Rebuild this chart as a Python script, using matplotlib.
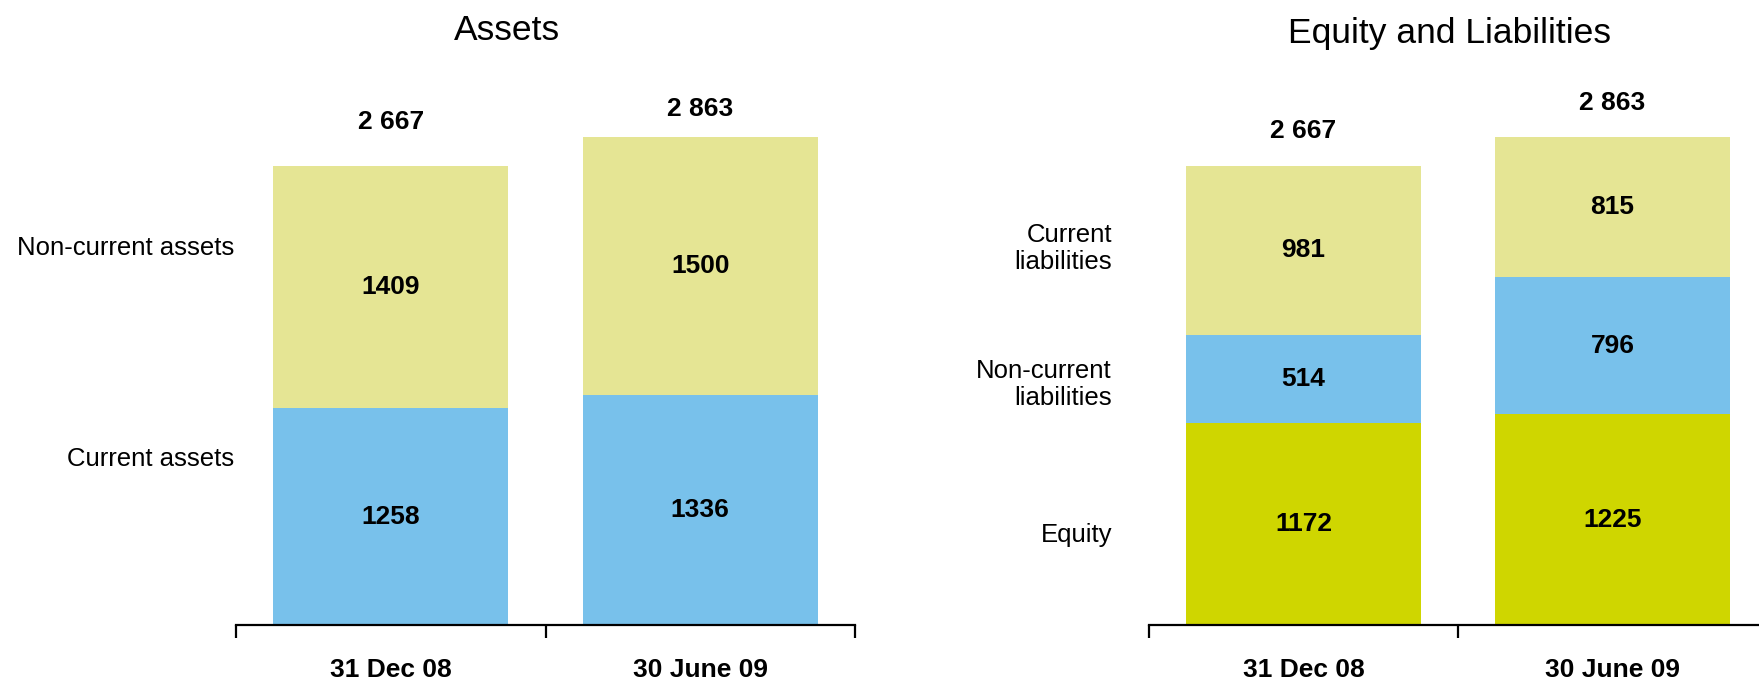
import matplotlib
matplotlib.use("Agg")
import matplotlib.pyplot as plt

plt.rcParams['font.family'] = ['Liberation Sans', 'DejaVu Sans']

dates = ["31 Dec 08", "30 June 09"]

# Assets
current_assets = [1258, 1336]
noncurrent_assets = [1409, 1500]
assets_total = ["2 667", "2 863"]

# Equity and liabilities
equity = [1172, 1225]
noncurrent_liab = [514, 796]
current_liab = [981, 815]
liab_total = ["2 667", "2 863"]

YELLOW = '#E5E594'
BLUE = '#78C1EB'
GREEN = '#CFD600'

fig = plt.figure(figsize=(17.59, 6.80), dpi=100)

W, H = 1759, 680
px_per_unit = 0.1721
ymax = 3300
ax_h = ymax * px_per_unit / H
ax_bottom = 1 - 625 / H

ax1 = fig.add_axes([236 / W, ax_bottom, 619 / W, ax_h])
ax2 = fig.add_axes([1149 / W, ax_bottom, 618 / W, ax_h])


def style_axis(ax):
    ax.set_xlim(-0.5, 1.5)
    ax.set_ylim(0, ymax)
    for s in ['top', 'right', 'left']:
        ax.spines[s].set_visible(False)
    ax.spines['bottom'].set_linewidth(1.6)
    ax.set_yticks([])
    ax.set_xticks([-0.5, 0.5, 1.5])
    ax.set_xticklabels([])
    ax.tick_params(axis='x', which='major', direction='out', length=9, width=1.6)
    ax.set_xticks([0, 1], minor=True)
    ax.set_xticklabels(dates, minor=True, fontsize=19, fontweight='bold')
    ax.tick_params(axis='x', which='minor', length=0, pad=24)


def stacked(ax, layers, colors, totals, offsets):
    x = range(len(dates))
    bottom = [0] * len(dates)
    for vals, c in zip(layers, colors):
        ax.bar(x, vals, width=0.76, bottom=bottom, color=c, edgecolor='none')
        for i, v in enumerate(vals):
            ax.text(i, bottom[i] + v / 2, str(v), ha='center', va='center',
                    fontsize=19, fontweight='bold')
        bottom = [b + v for b, v in zip(bottom, vals)]
    for i, t in enumerate(totals):
        ax.annotate(t, xy=(i, bottom[i]), xytext=(0, offsets[i]),
                    textcoords='offset points', ha='center', va='center',
                    fontsize=19, fontweight='bold', annotation_clip=False)


style_axis(ax1)
style_axis(ax2)

stacked(ax1, [current_assets, noncurrent_assets], [BLUE, YELLOW],
        assets_total, [32, 20])
stacked(ax2, [equity, noncurrent_liab, current_liab], [GREEN, BLUE, YELLOW],
        liab_total, [25, 24.5])

# side labels
ax1.text(-0.505, 2190, "Non-current assets", ha='right', va='center', fontsize=18.5)
ax1.text(-0.505, 965, "Current assets", ha='right', va='center', fontsize=18.5)
ax2.text(-0.62, 2190, "Current\nliabilities", ha='right', va='center',
         fontsize=18.5, linespacing=1.15)
ax2.text(-0.62, 1395, "Non-current\nliabilities", ha='right', va='center',
         fontsize=18.5, linespacing=1.15)
ax2.text(-0.62, 523, "Equity", ha='right', va='center', fontsize=18.5)

fig.text(507 / W, 1 - 31 / H, "Assets", ha='center', va='center', fontsize=25.5)
fig.text(1449 / W, 1 - 34 / H, "Equity and Liabilities", ha='center',
         va='center', fontsize=25.5)

fig.savefig("out.png", dpi=100)
